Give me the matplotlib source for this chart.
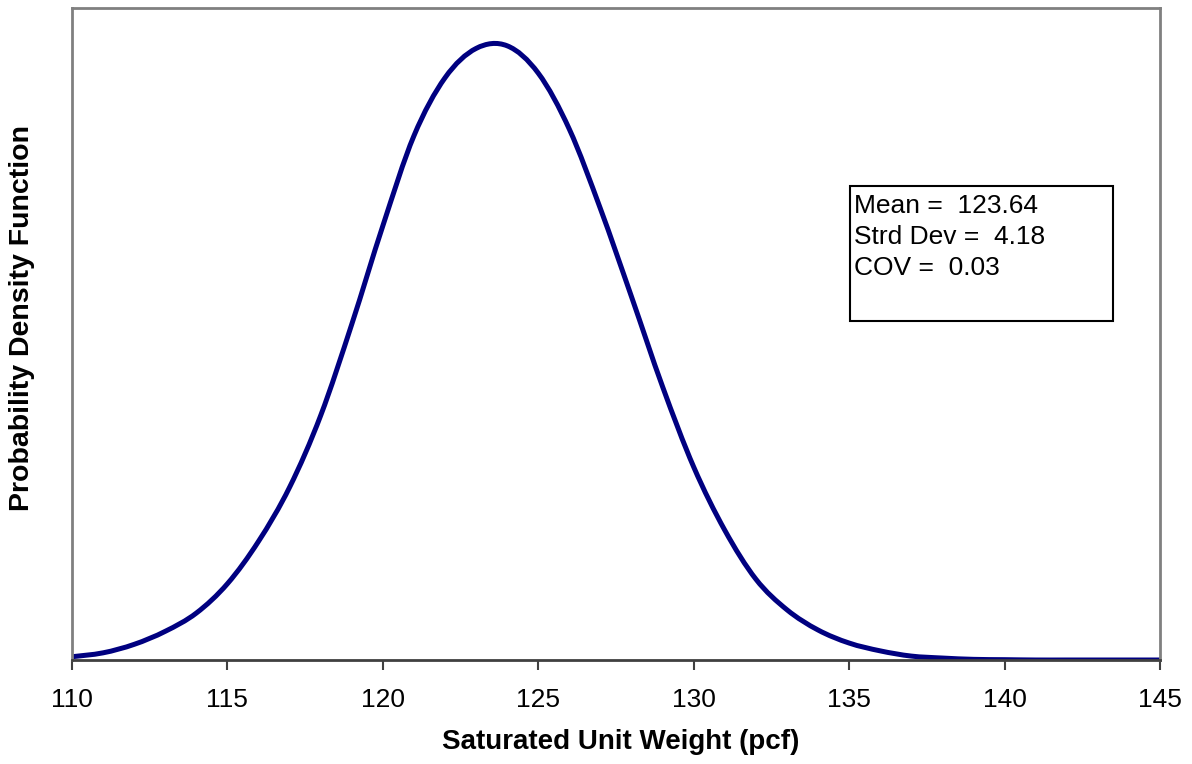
import matplotlib.pyplot as plt
import numpy as np
from matplotlib.path import Path
from matplotlib.patches import PathPatch, Rectangle

plt.rcParams['font.family'] = ['Liberation Sans', 'DejaVu Sans']

# Values (PDF of saturated unit weight)
unit_weight = [110, 111, 112, 113, 114, 115, 116, 117, 118, 119, 120,
               121, 122, 123, 124, 125, 126, 127, 128, 129, 130,
               131, 132, 133, 134, 135, 136, 137, 138, 139, 140, 141,
               142, 143, 144, 145]
pdf = [0.0005, 0.0011, 0.0024, 0.0044, 0.0072, 0.0117, 0.0182, 0.0265,
       0.0375, 0.0515, 0.0666, 0.0804, 0.0893, 0.0938, 0.0942,
       0.0900, 0.0814, 0.0692, 0.0557, 0.0419, 0.0296, 0.0199, 0.0124,
       0.0077, 0.0046, 0.0026, 0.0014, 0.0006, 0.0003, 0.0001, 0.00005,
       0.0, 0.0, 0.0, 0.0, 0.0]
stats_lines = ["Mean =  123.64", "Strd Dev =  4.18", "COV =  0.03"]
x_ticks = [110, 115, 120, 125, 130, 135, 140, 145]

fig = plt.figure(figsize=(11.92, 7.64), dpi=100)
ax = fig.add_axes([72 / 1192, 104 / 764, 1088 / 1192, 652 / 764])


def smooth_path(xs, ys):
    # Catmull-Rom style Bezier, like a spreadsheet "smoothed line"
    xs = np.asarray(xs, float)
    ys = np.asarray(ys, float)
    verts = [(xs[0], ys[0])]
    codes = [Path.MOVETO]
    n = len(xs)
    for i in range(n - 1):
        x0, y0 = (xs[i - 1], ys[i - 1]) if i > 0 else (xs[i], ys[i])
        x1, y1 = xs[i], ys[i]
        x2, y2 = xs[i + 1], ys[i + 1]
        x3, y3 = (xs[i + 2], ys[i + 2]) if i + 2 < n else (x2, y2)
        c1 = (x1 + (x2 - x0) / 6, y1 + (y2 - y0) / 6)
        c2 = (x2 - (x3 - x1) / 6, y2 - (y3 - y1) / 6)
        verts += [c1, c2, (x2, y2)]
        codes += [Path.CURVE4] * 3
    return Path(verts, codes)


ax.add_patch(PathPatch(smooth_path(unit_weight, pdf), facecolor="none",
                       edgecolor="#000080", linewidth=3.6,
                       capstyle="round", joinstyle="round"))

ax.set_xlim(110, 145)
ax.set_ylim(0, 0.1)
ax.set_xticks(x_ticks)
ax.set_yticks([])
ax.tick_params(axis="x", direction="out", length=7, width=1.5,
               color="#404040", labelsize=19, pad=13)

for side in ("left", "top", "right"):
    ax.spines[side].set_color("#808080")
    ax.spines[side].set_linewidth(2)
ax.spines["bottom"].set_color("#404040")
ax.spines["bottom"].set_linewidth(2)

fig.text(621 / 1192, 1 - 742 / 764, "Saturated Unit Weight (pcf)",
         fontsize=20, fontweight="bold", ha="center", va="center")
fig.text(22 / 1192, 1 - 318 / 764, "Probability Density Function",
         rotation=90, fontsize=20.5, fontweight="bold",
         ha="center", va="center")

# Statistics box
fig.patches.append(Rectangle((850 / 1192, 1 - 321 / 764),
                             263 / 1192, 135 / 764,
                             transform=fig.transFigure, facecolor="white",
                             edgecolor="black", linewidth=1.5))
for i, line in enumerate(stats_lines):
    fig.text(854 / 1192, 1 - (206 + 31 * i) / 764, line, fontsize=19,
             ha="left", va="center")

fig.savefig("out.png", dpi=100)
